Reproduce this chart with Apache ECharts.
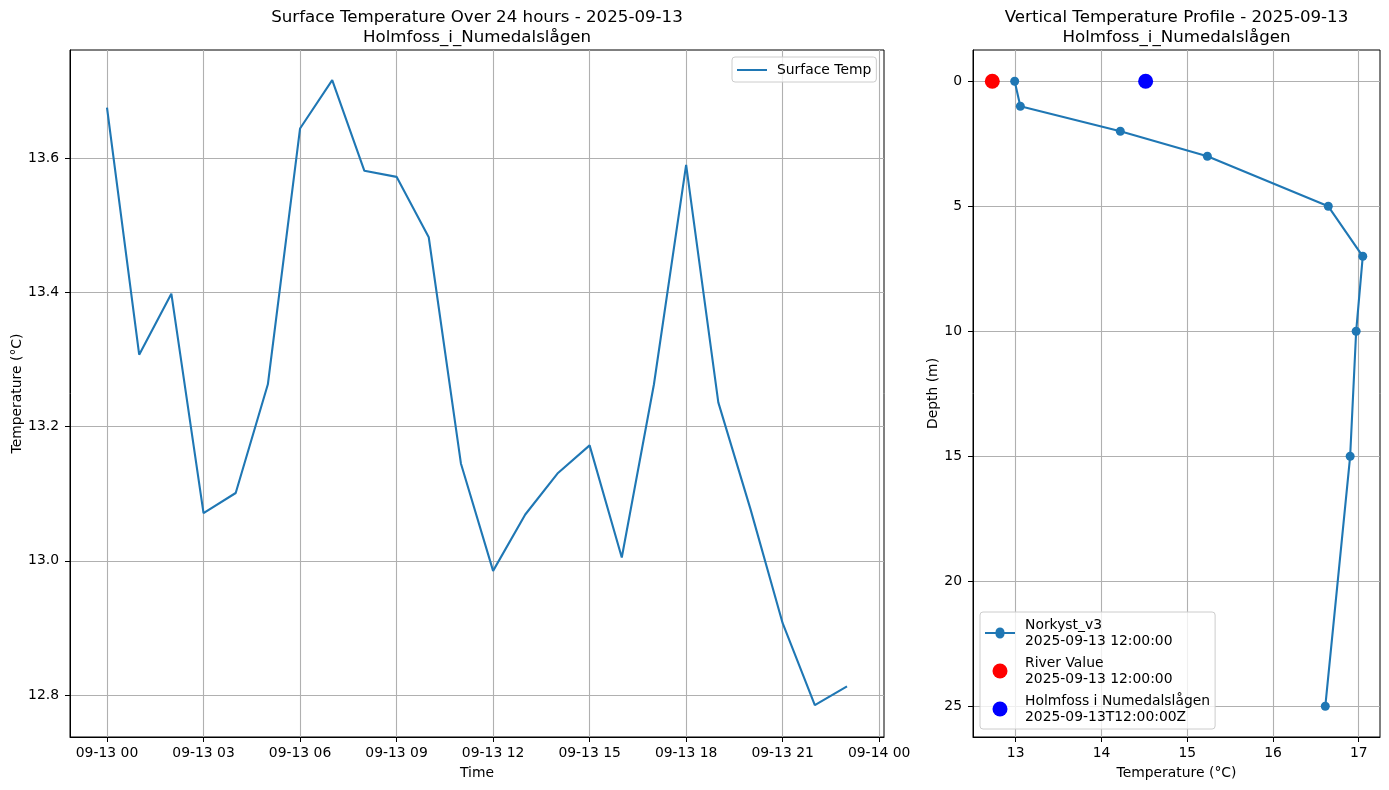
<!DOCTYPE html>
<html>
<head>
<meta charset="utf-8">
<style>
  html, body { margin: 0; padding: 0; background: #fff; }
  #chart { width: 1389px; height: 790px; }
</style>
<script src="https://cdn.jsdelivr.net/npm/echarts@6/dist/echarts.min.js"></script>
</head>
<body>
<div id="chart"></div>
<script>
// surface temperature, hourly
const surfaceTimes = [
  '2025-09-13T00:00:00Z', '2025-09-13T01:00:00Z', '2025-09-13T02:00:00Z', '2025-09-13T03:00:00Z',
  '2025-09-13T04:00:00Z', '2025-09-13T05:00:00Z', '2025-09-13T06:00:00Z', '2025-09-13T07:00:00Z',
  '2025-09-13T08:00:00Z', '2025-09-13T09:00:00Z', '2025-09-13T10:00:00Z', '2025-09-13T11:00:00Z',
  '2025-09-13T12:00:00Z', '2025-09-13T13:00:00Z', '2025-09-13T14:00:00Z', '2025-09-13T15:00:00Z',
  '2025-09-13T16:00:00Z', '2025-09-13T17:00:00Z', '2025-09-13T18:00:00Z', '2025-09-13T19:00:00Z',
  '2025-09-13T20:00:00Z', '2025-09-13T21:00:00Z', '2025-09-13T22:00:00Z', '2025-09-13T23:00:00Z'
];
const surfaceTemps = [
  13.675, 13.307, 13.398, 13.071, 13.101, 13.263, 13.644, 13.716,
  13.581, 13.572, 13.482, 13.145, 12.985, 13.069, 13.130, 13.172,
  13.005, 13.263, 13.590, 13.236, 13.077, 12.907, 12.785, 12.813
];
const timeTicks = [
  '2025-09-13T00:00:00Z', '2025-09-13T03:00:00Z', '2025-09-13T06:00:00Z', '2025-09-13T09:00:00Z',
  '2025-09-13T12:00:00Z', '2025-09-13T15:00:00Z', '2025-09-13T18:00:00Z', '2025-09-13T21:00:00Z',
  '2025-09-14T00:00:00Z'
];
const tempTicks = [12.8, 13.0, 13.2, 13.4, 13.6];

// vertical profile
const profileDepths = [0, 1, 2, 3, 5, 7, 10, 15, 25];
const profileTemps = [12.988, 13.054, 14.22, 15.235, 16.645, 17.047, 16.97, 16.9, 16.61];
const riverValue = [12.727, 0];
const stationValue = [14.515, 0];
const depthTicks = [0, 5, 10, 15, 20, 25];
const profileTempTicks = [13, 14, 15, 16, 17];

const FONT = '"DejaVu Sans"';
const BLUE = '#1f77b4';
const GRID = '#b0b0b0';
const ms = s => new Date(s).getTime();
const pad = n => String(n).padStart(2, '0');

const axisBase = {
  axisLine: { show: true, onZero: false, lineStyle: { color: '#000', width: 1 } },
  axisTick: { show: true, length: 5, lineStyle: { color: '#000', width: 1 } },
  splitLine: { show: true, lineStyle: { color: GRID, width: 1.1 } },
  nameLocation: 'middle',
  nameMoveOverlap: false,
  nameTextStyle: { color: '#000', fontFamily: FONT, fontSize: 13.9 }
};
const xLabel = { color: '#000', fontFamily: FONT, fontSize: 13.9, margin: 9 };
// top padding nudges the y labels down a pixel so they sit on their ticks
const yLabel = { color: '#000', fontFamily: FONT, fontSize: 13.9, margin: 11, padding: [2, 0, 0, 0] };
const titleStyle = { color: '#000', fontFamily: FONT, fontSize: 16.67, fontWeight: 'normal', lineHeight: 19.5 };
const gridBase = { top: 50, height: 687, show: true, borderColor: '#000', borderWidth: 1, backgroundColor: 'transparent', outerBoundsMode: 'none' };

const option = {
  animation: false,
  backgroundColor: '#fff',
  title: [
    {
      text: 'Surface Temperature Over 24 hours - 2025-09-13\nHolmfoss_i_Numedalslågen',
      left: 472, top: 3, textAlign: 'center', textStyle: titleStyle
    },
    {
      text: 'Vertical Temperature Profile - 2025-09-13\nHolmfoss_i_Numedalslågen',
      left: 1171.5, top: 3, textAlign: 'center', textStyle: titleStyle
    }
  ],
  grid: [
    { ...gridBase, left: 70, width: 814 },
    { ...gridBase, left: 973, width: 407 }
  ],
  xAxis: [
    {
      ...axisBase, gridIndex: 0, type: 'value', name: 'Time', nameGap: 29,
      min: ms('2025-09-12T22:51:00Z'), max: ms('2025-09-14T00:09:00Z'),
      axisTick: { ...axisBase.axisTick, customValues: timeTicks.map(ms) },
      axisLabel: {
        ...xLabel, customValues: timeTicks.map(ms),
        formatter: v => {
          const d = new Date(v);
          return pad(d.getUTCMonth() + 1) + '-' + pad(d.getUTCDate()) + ' ' + pad(d.getUTCHours());
        }
      }
    },
    {
      ...axisBase, gridIndex: 1, type: 'value', name: 'Temperature (°C)', nameGap: 29,
      min: 12.502, max: 17.248,
      axisTick: { ...axisBase.axisTick, customValues: profileTempTicks },
      axisLabel: { ...xLabel, customValues: profileTempTicks }
    }
  ],
  yAxis: [
    {
      ...axisBase, gridIndex: 0, type: 'value', name: 'Temperature (°C)', nameGap: 46,
      min: 12.7375, max: 13.761,
      axisTick: { ...axisBase.axisTick, customValues: tempTicks },
      axisLabel: { ...yLabel, customValues: tempTicks, formatter: v => v.toFixed(1) }
    },
    {
      ...axisBase, gridIndex: 1, type: 'value', name: 'Depth (m)', nameGap: 33, inverse: true,
      min: -1.252, max: 26.228,
      axisTick: { ...axisBase.axisTick, customValues: depthTicks },
      axisLabel: { ...yLabel, customValues: depthTicks }
    }
  ],
  legend: [
    {
      data: [{ name: 'Surface Temp', icon: 'path://M0 0H30V2H0Z' }],
      left: 732, top: 57, orient: 'vertical', padding: [5, 5, 4, 5],
      itemWidth: 30, itemHeight: 2, itemGap: 4,
      backgroundColor: 'rgba(255,255,255,0.8)', borderColor: '#ccc', borderWidth: 1, borderRadius: 3,
      textStyle: { color: '#000', fontFamily: FONT, fontSize: 13.9, lineHeight: 16, padding: [0, 0, 0, 5] }
    },
    {
      data: [
        { name: 'Norkyst_v3\n2025-09-13 12:00:00', icon: 'path://M0 3.5H10.5A4.5 4.5 0 0 1 19.5 3.5H30V5.5H19.5A4.5 4.5 0 0 1 10.5 5.5H0Z' },
        'River Value\n2025-09-13 12:00:00',
        'Holmfoss i Numedalslågen\n2025-09-13T12:00:00Z'
      ],
      left: 980, top: 612, orient: 'vertical', padding: [5, 5, 4, 5],
      itemWidth: 30, itemHeight: 15, itemGap: 6,
      backgroundColor: 'rgba(255,255,255,0.8)', borderColor: '#ccc', borderWidth: 1, borderRadius: 3,
      textStyle: { color: '#000', fontFamily: FONT, fontSize: 13.9, lineHeight: 16, padding: [0, 0, 0, 5] }
    }
  ],
  series: [
    {
      name: 'Surface Temp', type: 'line', xAxisIndex: 0, yAxisIndex: 0, showSymbol: false, symbol: 'none',
      lineStyle: { color: BLUE, width: 2.1 }, itemStyle: { color: BLUE }, z: 5,
      data: surfaceTimes.map((t, i) => [ms(t), surfaceTemps[i]])
    },
    {
      name: 'Norkyst_v3\n2025-09-13 12:00:00', type: 'line', xAxisIndex: 1, yAxisIndex: 1, symbol: 'circle', symbolSize: 9,
      lineStyle: { color: BLUE, width: 2.1 }, itemStyle: { color: BLUE }, z: 5,
      data: profileTemps.map((t, i) => [t, profileDepths[i]])
    },
    {
      name: 'River Value\n2025-09-13 12:00:00', type: 'scatter', xAxisIndex: 1, yAxisIndex: 1, symbol: 'circle', symbolSize: 15,
      itemStyle: { color: '#ff0000', opacity: 1 }, z: 6, data: [riverValue]
    },
    {
      name: 'Holmfoss i Numedalslågen\n2025-09-13T12:00:00Z', type: 'scatter', xAxisIndex: 1, yAxisIndex: 1, symbol: 'circle', symbolSize: 15,
      itemStyle: { color: '#0000ff', opacity: 1 }, z: 6, data: [stationValue]
    }
  ]
};

const chart = echarts.init(document.getElementById('chart'));
chart.setOption(option);
</script>
</body>
</html>
